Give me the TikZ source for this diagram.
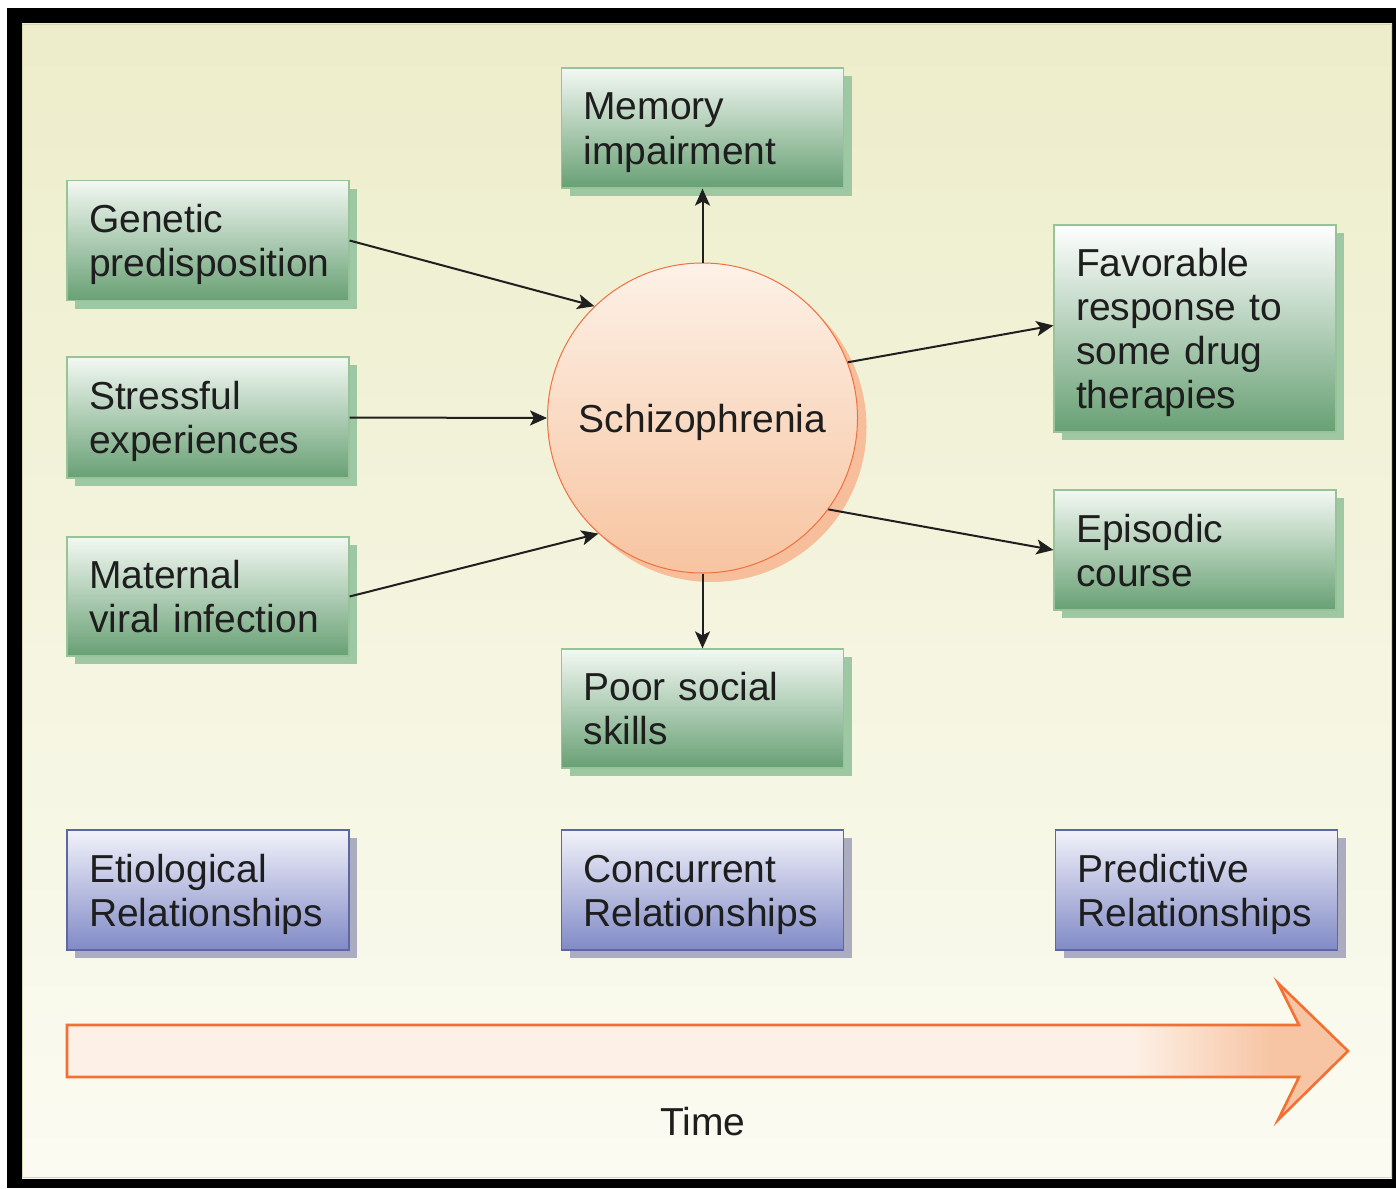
\documentclass[tikz,border=0pt]{standalone}
\usepackage{fontspec}
\setmainfont{Liberation Sans}
\usetikzlibrary{arrows.meta,shadows}
\definecolor{bgtop}{RGB}{237,237,203}
\definecolor{bgbot}{RGB}{251,251,242}
\definecolor{bgedge}{RGB}{214,214,176}
\definecolor{greentop}{RGB}{243,248,243}
\definecolor{greenbot}{RGB}{104,160,116}
\definecolor{greenborder}{RGB}{150,196,150}
\definecolor{greenshadow}{RGB}{158,200,164}
\definecolor{bluetop}{RGB}{242,242,250}
\definecolor{bluebot}{RGB}{128,138,198}
\definecolor{blueborder}{RGB}{92,104,164}
\definecolor{blueshadow}{RGB}{172,172,192}
\definecolor{circtop}{RGB}{253,241,231}
\definecolor{circbot}{RGB}{247,196,160}
\definecolor{circborder}{RGB}{240,112,64}
\definecolor{circshadow}{RGB}{246,190,155}
\definecolor{arrlight}{RGB}{253,241,231}
\definecolor{arrdark}{RGB}{247,197,164}
\definecolor{arrborder}{RGB}{242,112,52}
\definecolor{txt}{RGB}{30,30,30}
\newcommand\firstst{\rule{0pt}{38pt}}
\newcommand\lastst{\rule[-10pt]{0pt}{10pt}}
\tikzset{
  bigfont/.style={font=\fontsize{39}{44}\selectfont, text=txt},
  basebox/.style={bigfont, rectangle, align=left, text width=238pt,
    inner xsep=22pt, inner ysep=0pt, minimum width=282pt},
  greenbox/.style={basebox, draw=greenborder, line width=1.2pt,
    top color=greentop, bottom color=greenbot,
    drop shadow={shadow xshift=8pt, shadow yshift=-8pt, fill=greenshadow, opacity=1}},
  bluebox/.style={basebox, draw=blueborder, line width=1.2pt,
    top color=bluetop, bottom color=bluebot,
    drop shadow={shadow xshift=8pt, shadow yshift=-8pt, fill=blueshadow, opacity=1}},
  conn/.style={line width=2pt, black!88, -{Stealth[length=17pt,width=15pt,inset=4pt]}},
}
\begin{document}
\begin{tikzpicture}[x=1pt,y=-1pt]
\useasboundingbox (0,0) rectangle (1396,1188);
% frame and background
\fill[white] (0,0) rectangle (1396,1188);
\fill[black] (7,8) rectangle (1396,1188);
\shade[top color=bgtop, bottom color=bgbot] (22,24) rectangle (1392,1178);
\draw[bgedge, line width=1pt] (22.5,24.5) rectangle (1391.5,1177.5);

% central circle
\node[circle, minimum size=310pt, inner sep=0pt, draw=circborder, line width=1pt,
  top color=circtop, bottom color=circbot, text depth=0pt,
  drop shadow={shadow xshift=9pt, shadow yshift=-9pt, fill=circshadow, opacity=1},
  bigfont] (schiz) at (702.5,418) {Schizophrenia};

% green boxes
\node[greenbox, minimum height=120pt] (gen) at (208,240.5) {\firstst Genetic\\predisposition\lastst};
\node[greenbox, minimum height=121pt] (stress) at (208,417.5) {\firstst Stressful\\experiences\lastst};
\node[greenbox, minimum height=119pt] (mat) at (208,596.5) {\firstst Maternal\\viral infection\lastst};
\node[greenbox, minimum height=120pt, minimum width=281pt] (mem) at (702.5,128) {\firstst Memory\\impairment\lastst};
\node[greenbox, minimum height=119pt, minimum width=281pt] (poor) at (702.5,708.5) {\firstst Poor social\\skills\lastst};
\node[greenbox, minimum height=207pt, top color=white, middle color=greenbot!18!white, bottom color=greenbot] (fav) at (1195,328.5) {\firstst Favorable\\response to\\some drug\\therapies\lastst};
\node[greenbox, minimum height=120pt] (epi) at (1195,550) {\firstst Episodic\\course\lastst};

% blue boxes
\node[bluebox, minimum height=120pt] (eti) at (208,890) {\firstst Etiological\\Relationships\lastst};
\node[bluebox, minimum height=120pt, minimum width=281pt] (conc) at (702.5,890) {\firstst Concurrent\\Relationships\lastst};
\node[bluebox, minimum height=120pt, minimum width=281pt] (pred) at (1196.5,890) {\firstst Predictive\\Relationships\lastst};

% connectors
\draw[conn] (gen.east) -- (schiz.134);
\draw[conn] (stress.east) -- (schiz.west);
\draw[conn] (mat.east) -- (schiz.228);
\draw[conn] (schiz.north) -- (mem.south);
\draw[conn] (schiz.south) -- (poor.north);
\draw[conn] (schiz.21) -- ([yshift=3pt]fav.west);
\draw[conn] (schiz.-36) -- (epi.west);

% time arrow
\begin{scope}
\clip (67,1025) -- (1299,1025) -- (1278,983) -- (1348,1051) -- (1278,1120) -- (1299,1077) -- (67,1077) -- cycle;
\fill[arrlight] (60,975) rectangle (1131,1130);
\shade[left color=arrlight, right color=arrdark] (1130,975) rectangle (1271,1130);
\fill[arrdark] (1270,975) rectangle (1355,1130);
\end{scope}
\draw[arrborder, line width=2.6pt, line join=miter] (67,1025) -- (1299,1025) -- (1278,983) -- (1348,1051) -- (1278,1120) -- (1299,1077) -- (67,1077) -- cycle;
\node[bigfont, anchor=base, inner sep=0pt] (time) at (703,1135) {Time};
\end{tikzpicture}
\end{document}
